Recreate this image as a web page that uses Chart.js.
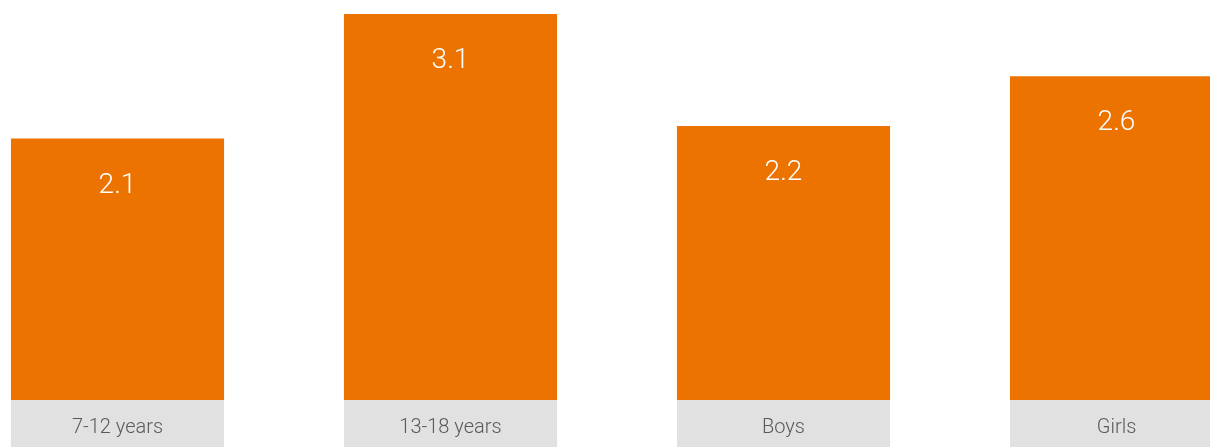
<!DOCTYPE html>
<html>
<head>
<meta charset="utf-8">
<script src="https://cdn.jsdelivr.net/npm/chart.js@4"></script>
<style>
html,body{margin:0;padding:0;background:#fff;overflow:hidden;width:1210px;height:447px;}
#wrap{position:absolute;left:-49px;top:0;width:1332px;height:447px;}
</style>
</head>
<body>
<div id="wrap"><canvas id="c" width="1332" height="447"></canvas></div>
<script>
const categories = ["7-12 years", "13-18 years", "Boys", "Girls"];
const values = [2.1, 3.1, 2.2, 2.6];
const valueLabels = ["2.1", "3.1", "2.2", "2.6"];

const labelPlugin = {
  id: 'labelBoxes',
  afterDatasetsDraw(chart) {
    const ctx = chart.ctx;
    const meta = chart.getDatasetMeta(0);
    const base = chart.scales.y.getPixelForValue(0);
    const bottom = chart.height;
    ctx.save();
    meta.data.forEach((bar, i) => {
      const w = bar.width;
      ctx.fillStyle = '#e1e1e1';
      ctx.fillRect(bar.x - w / 2, base, w, bottom - base);
      ctx.fillStyle = '#5a5a5a';
      ctx.font = '300 20px Roboto';
      ctx.textAlign = 'center';
      ctx.textBaseline = 'middle';
      ctx.fillText(categories[i], bar.x, base + 28);
      ctx.fillStyle = '#ffffff';
      ctx.font = '300 28px Roboto';
      ctx.fillText(valueLabels[i], bar.x, bar.y + 47);
    });
    ctx.restore();
  }
};

new Chart(document.getElementById('c'), {
  type: 'bar',
  data: {
    labels: categories,
    datasets: [{
      data: values,
      backgroundColor: '#ed7300',
      borderWidth: 0,
      categoryPercentage: 1,
      barPercentage: 0.64
    }]
  },
  options: {
    responsive: false,
    animation: false,
    devicePixelRatio: 1,
    layout: { padding: { top: 0, bottom: 47, left: 0, right: 0 } },
    plugins: { legend: { display: false }, tooltip: { enabled: false } },
    scales: {
      x: { display: false, grid: { display: false } },
      y: { display: false, min: 0, max: 3.2124, grid: { display: false } }
    }
  },
  plugins: [labelPlugin]
});
</script>
</body>
</html>
